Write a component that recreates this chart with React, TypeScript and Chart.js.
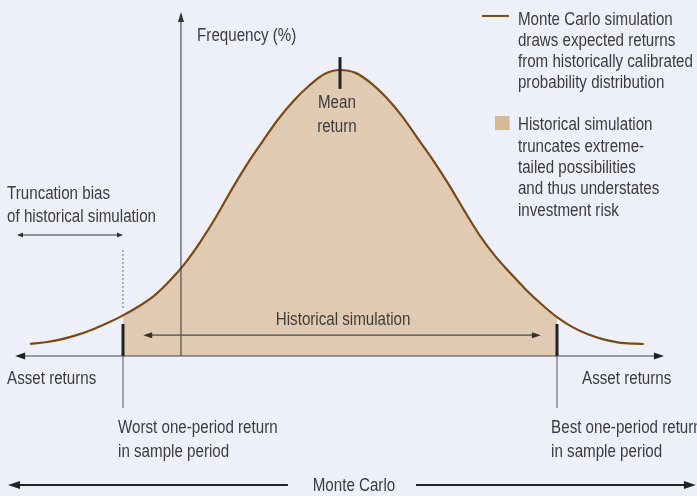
import React, { useEffect, useRef } from "react";
import { Chart, registerables } from "chart.js";

Chart.register(...registerables);

// ---- Data ----
const returns = [
  -10, -9.5, -9, -8.5, -8, -7.5, -7, -6.5, -6, -5.5, -5, -4.5, -4, -3.5, -3, -2.5, -2, -1.5, -1, -0.5,
  0, 0.5, 1, 1.5, 2, 2.5, 3, 3.5, 4, 4.5, 5, 5.5, 6, 6.5, 7, 7.5, 8, 8.5, 9, 9.5, 9.8,
];
const frequency = [
  4.2, 4.8, 5.8, 7.3, 9.2, 11.5, 14.2, 17.3, 21.0, 26.2, 32.4, 40.0, 48.6, 58.1, 67.0, 75.0, 82.7, 89.2, 94.5, 98.6,
  100, 99.0, 95.4, 90.3, 83.9, 76.2, 68.5, 60.1, 51.0, 42.3, 35.0, 28.9, 23.2, 18.1, 13.6, 10.1, 7.6, 5.8, 4.7, 4.3, 4.2,
];
const worstReturn = -7;
const bestReturn = 7;
const meanReturn = 0;

const legendMonteCarlo = [
  "Monte Carlo simulation",
  "draws expected returns",
  "from historically calibrated",
  "probability distribution",
];
const legendHistorical = [
  "Historical simulation",
  "truncates extreme-",
  "tailed possibilities",
  "and thus understates",
  "investment risk",
];
const truncationLabel = ["Truncation bias", "of historical simulation"];
const worstLabel = ["Worst one-period return", "in sample period"];
const bestLabel = ["Best one-period return", "in sample period"];

const BG = "#EDF0F8";
const CURVE = "#7B4A12";
const FILL = "#E0CBB2";
const SWATCH = "#D5B896";
const TEXT = "#3c3c3c";
const FONT = "'Liberation Sans', Arial, sans-serif";
const FONT_SIZE = 17.5;
const FONT_SQUEEZE = 0.865;

const W = 697;
const H = 496;

export default function App() {
  const ref = useRef<HTMLCanvasElement>(null);

  useEffect(() => {
    if (!ref.current) return;
    const pts = returns.map((r, i) => ({ x: r, y: frequency[i] }));
    const histPts = pts.filter((p) => p.x >= worstReturn && p.x <= bestReturn);

    const annot = {
      id: "diagram",
      beforeDraw(chart: any) {
        const c = chart.ctx;
        c.save();
        c.fillStyle = BG;
        c.fillRect(0, 0, chart.width, chart.height);
        c.restore();
      },
      afterDatasetsDraw(chart: any) {
        const c: CanvasRenderingContext2D = chart.ctx;
        const xs = chart.scales.x;
        const ys = chart.scales.y;
        const X = (v: number) => xs.getPixelForValue(v);
        const Y = (v: number) => ys.getPixelForValue(v);

        const line = (x1: number, y1: number, x2: number, y2: number, color: string, w: number, dash: number[] = []) => {
          c.save();
          c.strokeStyle = color;
          c.lineWidth = w;
          c.setLineDash(dash);
          c.beginPath();
          c.moveTo(x1, y1);
          c.lineTo(x2, y2);
          c.stroke();
          c.restore();
        };
        const head = (tx: number, ty: number, dx: number, dy: number, len: number, hw: number, color: string) => {
          const bx = tx - dx * len;
          const by = ty - dy * len;
          const px = -dy;
          const py = dx;
          c.save();
          c.fillStyle = color;
          c.beginPath();
          c.moveTo(tx, ty);
          c.lineTo(bx + px * hw, by + py * hw);
          c.lineTo(bx - px * hw, by - py * hw);
          c.closePath();
          c.fill();
          c.restore();
        };
        const txt = (s: string, x: number, y: number, align: "left" | "center" = "left") => {
          c.save();
          c.fillStyle = TEXT;
          c.font = `${FONT_SIZE}px ${FONT}`;
          c.textAlign = align;
          c.textBaseline = "middle";
          c.translate(x, y);
          c.scale(FONT_SQUEEZE, 1);
          c.fillText(s, 0, 0);
          c.restore();
        };

        // Y axis (frequency)
        const yAxisX = X(-5.13);
        line(yAxisX, Y(0), yAxisX, Y(117), "#333", 1);
        head(yAxisX, Y(120.3), 0, -1, 10, 3, "#333");

        // X axis (asset returns) with arrows both sides
        line(X(-10.2), Y(0), X(10.2), Y(0), "#444", 1.2);
        head(X(-10.48), Y(0), -1, 0, 10, 3.5, "#222");
        head(X(10.45), Y(0), 1, 0, 10, 3.5, "#222");

        // Worst / best markers
        for (const r of [worstReturn, bestReturn]) {
          line(X(r), Y(0), X(r), Y(11.2), "#222", 3);
          line(X(r), Y(0), X(r), Y(-18.2), "#555", 1);
        }
        // Mean marker
        line(X(meanReturn), Y(93.4), X(meanReturn), Y(104.5), "#222", 3);

        // dotted line above worst
        line(X(worstReturn), Y(16.8), X(worstReturn), Y(37.1), "#888", 1.2, [2, 2]);

        // Truncation bias arrow
        line(X(-10.3), Y(42.3), X(-7.1), Y(42.3), "#333", 1);
        head(X(-10.42), Y(42.3), -1, 0, 6, 2.5, "#333");
        head(X(-7.0), Y(42.3), 1, 0, 6, 2.5, "#333");

        // Historical simulation arrow
        line(X(-6.1), Y(7.3), X(6.2), Y(7.3), "#4a4a4a", 1.2);
        head(X(-6.35), Y(7.3), -1, 0, 9, 3, "#333");
        head(X(6.48), Y(7.3), 1, 0, 9, 3, "#333");

        // Monte Carlo arrow
        line(X(-10.4), Y(-45.1), X(-1.68), Y(-45.1), "#222", 2);
        line(X(2.45), Y(-45.1), X(11.2), Y(-45.1), "#222", 2);
        head(X(-10.71), Y(-45.1), -1, 0, 12, 4, "#222");
        head(X(11.48), Y(-45.1), 1, 0, 12, 4, "#222");

        // Legend
        line(X(4.58), Y(118.9), X(5.45), Y(118.9), CURVE, 2);
        legendMonteCarlo.forEach((s, i) => txt(s, X(5.74), Y(117.6 - i * 7.45)));
        c.save();
        c.fillStyle = SWATCH;
        c.fillRect(X(5.0), Y(83.9), X(5.47) - X(5.0), Y(79.0) - Y(83.9));
        c.restore();
        legendHistorical.forEach((s, i) => txt(s, X(5.74), Y(80.6 - i * 7.45)));

        // Labels
        txt("Frequency (%)", X(-4.61), Y(112.0));
        txt("Mean", X(-0.1), Y(88.4), "center");
        txt("return", X(-0.1), Y(80.0), "center");
        truncationLabel.forEach((s, i) => txt(s, X(-10.74), Y(56.6 - i * 8.0)));
        txt("Historical simulation", X(0.1), Y(12.6), "center");
        txt("Asset returns", X(-10.74), Y(-8.0));
        txt("Asset returns", X(7.81), Y(-8.0));
        worstLabel.forEach((s, i) => txt(s, X(-7.16), Y(-25.2 - i * 8.4)));
        bestLabel.forEach((s, i) => txt(s, X(6.81), Y(-25.2 - i * 8.4)));
        txt("Monte Carlo", X(0.45), Y(-45.4), "center");
      },
    };

    const chart = new Chart(ref.current, {
      type: "line",
      data: {
        datasets: [
          {
            label: "Monte Carlo simulation",
            data: pts,
            borderColor: CURVE,
            borderWidth: 2.2,
            pointRadius: 0,
            fill: false,
            cubicInterpolationMode: "monotone",
            order: 0,
          },
          {
            label: "Historical simulation",
            data: histPts,
            borderWidth: 0,
            borderColor: "rgba(0,0,0,0)",
            backgroundColor: FILL,
            pointRadius: 0,
            fill: "origin",
            cubicInterpolationMode: "monotone",
            order: 1,
          },
        ],
      },
      options: {
        animation: false,
        responsive: false,
        devicePixelRatio: 1,
        layout: { padding: 0 },
        plugins: { legend: { display: false }, tooltip: { enabled: false } },
        scales: {
          x: { type: "linear", min: -10.968, max: 11.516, display: false },
          y: { type: "linear", min: -48.95, max: 124.48, display: false },
        },
      },
      plugins: [annot],
    });
    return () => chart.destroy();
  }, []);

  return (
    <div style={{ position: "absolute", left: 0, top: 0, width: W, height: H, background: BG }}>
      <canvas ref={ref} width={W} height={H} style={{ display: "block" }} />
    </div>
  );
}
